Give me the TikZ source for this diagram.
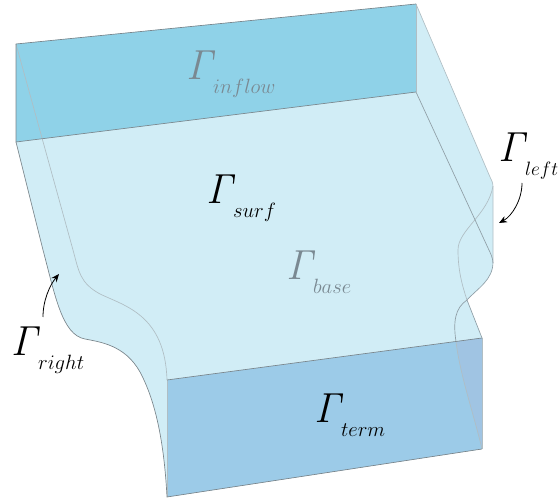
\documentclass[tikz,border=0pt]{standalone}
\usepackage{fix-cm}
\usetikzlibrary{arrows.meta}
\definecolor{inflowc}{HTML}{8FD2E8}
\definecolor{lightc}{HTML}{D1EDF6}
\definecolor{termc}{HTML}{9CCBE8}
\definecolor{overc}{HTML}{A0C4E3}
\definecolor{edgec}{HTML}{7A858B}
\definecolor{softc}{HTML}{B0BEC4}
\definecolor{midc}{HTML}{8F9EA6}
\definecolor{lblgray}{HTML}{7A8992}
\newcommand{\glabel}[1]{{\fontsize{31.5}{33}\selectfont$\mathit{\Gamma}$}\kern-3.2pt\raisebox{-10.5pt}{\fontsize{15.5}{17}\selectfont$#1$}}
\tikzset{
  edge/.style={draw=edgec,line width=.5pt},
  soft/.style={draw=softc,line width=.5pt},
  midedge/.style={draw=midc,line width=.5pt},
  lbl/.style={anchor=base west,inner sep=0pt,outer sep=0pt},
  pointer/.style={-{Stealth[length=6pt,width=5pt]},line width=.6pt,black}
}
\begin{document}
\begin{tikzpicture}[x=.75pt,y=-.75pt]
\useasboundingbox (0,0) rectangle (558,498);
% silhouette
\fill[lightc] (16,44) -- (416,4) -- (490,177) .. controls (492,181) and (493,183) .. (493,187) -- (493,262)
  .. controls (493,280) and (478,288) .. (467,300) -- (482,338) -- (482,449) -- (167,497)
  .. controls (164,440) and (155,400) .. (140,372)
  .. controls (125,345) and (100,342) .. (85,339)
  .. controls (62,335) and (55,295) .. (43,250) -- (16,142) -- cycle;
% faces
\fill[inflowc] (16,44) -- (416,4) -- (416,92) -- (16,142) -- cycle;
\fill[termc] (167,380) -- (482,338) -- (482,449) -- (167,497) -- cycle;
\fill[overc] (456,341.5) -- (482,338) -- (482,449) .. controls (474,415) and (460,375) .. (456,341.5) -- cycle;
% soft edges
\draw[soft] (16,44) -- (73,250) .. controls (79,272) and (80,283) .. (100,294)
  .. controls (125,306) and (165,315) .. (167,380);
\draw[soft] (416,4) -- (490,177) .. controls (492,181) and (493,183) .. (493,187) -- (493,262);
\draw[soft] (493,186) .. controls (488,215) and (458,230) .. (458,250)
  .. controls (458,270) and (462,285) .. (467,300);
\draw[midedge] (416,92) -- (488,248) .. controls (490,252) and (493,258) .. (493,263);
\draw[soft] (416,4) -- (416,92);
\draw[soft] (167,380) -- (167,497);
\draw[soft] (482,338) -- (482,449);
\draw[soft] (456,341.5) .. controls (460,375) and (474,415) .. (482,449);
% firm edges
\draw[edge] (16,44) -- (416,4);
\draw[edge] (16,44) -- (16,142) -- (416,92);
\draw[edge] (167,380) -- (482,338);
\draw[edge] (482,449) -- (167,497)
  .. controls (164,440) and (155,400) .. (140,372)
  .. controls (125,345) and (100,342) .. (85,339)
  .. controls (62,335) and (55,295) .. (43,250) -- (16,142);
\draw[midedge] (467,300) -- (482,338);
\draw[midedge] (493,262) .. controls (493,280) and (478,288) .. (467,300)
  .. controls (455,308) and (453,322) .. (456,341.5);
% labels
\node[lbl,text=lblgray] (inflow) at (186,80) {\glabel{inflow}};
\node[lbl] (surf) at (206,204) {\glabel{surf}};
\node[lbl,text=lblgray] (base) at (286,280) {\glabel{base}};
\node[lbl] (term) at (314,423) {\glabel{term}};
\node[lbl] (left) at (498,162) {{\fontsize{31.5}{33}\selectfont$\mathit{\Gamma}$}\kern-3.2pt\raisebox{-10.5pt}{\fontsize{14.5}{16}\selectfont$left$}};
\node[lbl] (right) at (11,356) {\glabel{right}};
% pointers
\coordinate (ls) at (522,183);
\coordinate (le) at (499,223);
\coordinate (rs) at (43,317);
\coordinate (re) at (59,274);
\draw[pointer] (ls) .. controls (522,200) and (512,216) .. (le);
\draw[pointer] (rs) .. controls (43,300) and (50,285) .. (re);
\end{tikzpicture}
\end{document}
